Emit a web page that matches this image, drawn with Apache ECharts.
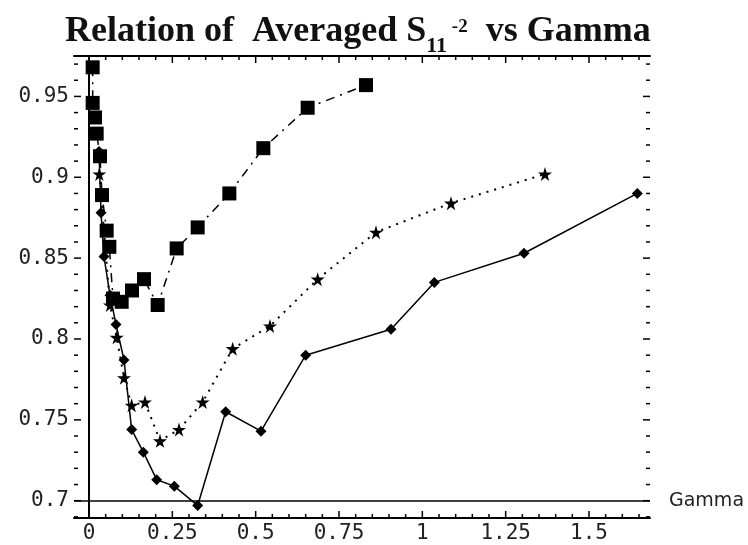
<!DOCTYPE html>
<html>
<head>
<meta charset="utf-8">
<script src="https://cdn.jsdelivr.net/npm/echarts@6/dist/echarts.min.js"></script>
<style>
  html, body { margin: 0; padding: 0; background: #fff; }
  #chart { width: 748px; height: 545px; }
</style>
</head>
<body>
<div id="chart"></div>
<script>
// Gamma values and averaged |S11|^-2 for the three runs
const gammaSquares = [0.011, 0.011, 0.018, 0.023, 0.033, 0.039, 0.053, 0.061, 0.072, 0.098, 0.129, 0.165, 0.206, 0.263, 0.326, 0.421, 0.523, 0.656, 0.831];
const valuesSquares = [0.968, 0.946, 0.937, 0.927, 0.913, 0.889, 0.867, 0.857, 0.825, 0.823, 0.830, 0.837, 0.821, 0.856, 0.869, 0.890, 0.918, 0.943, 0.957];

const gammaStars = [0.031, 0.063, 0.083, 0.105, 0.128, 0.168, 0.213, 0.270, 0.341, 0.431, 0.543, 0.686, 0.861, 1.086, 1.368];
const valuesStars = [0.902, 0.821, 0.801, 0.776, 0.759, 0.761, 0.737, 0.744, 0.761, 0.794, 0.808, 0.837, 0.866, 0.884, 0.902];

const gammaDiamonds = [0.030, 0.036, 0.045, 0.063, 0.081, 0.105, 0.128, 0.163, 0.203, 0.256, 0.326, 0.410, 0.516, 0.650, 0.906, 1.036, 1.305, 1.645];
const valuesDiamonds = [0.916, 0.878, 0.851, 0.827, 0.809, 0.787, 0.744, 0.730, 0.713, 0.709, 0.697, 0.755, 0.743, 0.790, 0.806, 0.835, 0.853, 0.890];

// Tick positions
const xMajorTicks = [0, 0.25, 0.5, 0.75, 1, 1.25, 1.5];
const yMajorTicks = [0.7, 0.75, 0.8, 0.85, 0.9, 0.95];

const X_MIN = -0.045, X_MAX = 1.683;
const Y_MIN = 0.6893, Y_MAX = 0.975;

function stepValues(lo, hi, step) {
  const out = [];
  const start = Math.ceil(lo / step - 1e-9);
  const end = Math.floor(hi / step + 1e-9);
  for (let i = start; i <= end; i++) out.push(+(i * step).toFixed(4));
  return out;
}
const xMinorTicks = stepValues(X_MIN, X_MAX, 0.05);
const yMinorTicks = stepValues(Y_MIN, Y_MAX, 0.01);

function pairs(xs, ys) { return xs.map((x, i) => [x, ys[i]]); }

// Frame tick marks: [axis (0 = x, 1 = y), value, isMajor]
function isMajor(v, majors) { return majors.some(m => Math.abs(m - v) < 1e-6); }
const tickItems = []
  .concat(xMinorTicks.map(v => [0, v, isMajor(v, xMajorTicks) ? 1 : 0]))
  .concat(yMinorTicks.map(v => [1, v, isMajor(v, yMajorTicks) ? 1 : 0]));

function renderTick(params, api) {
  const axis = api.value(0), v = api.value(1), major = api.value(2);
  const len = major ? 7 : 4;
  const style = { stroke: '#000', lineWidth: 1.5 };
  const children = [];
  if (axis === 0) {
    const b = api.coord([v, Y_MIN]);
    const t = api.coord([v, Y_MAX]);
    children.push({ type: 'line', shape: { x1: b[0], y1: b[1], x2: b[0], y2: b[1] - len }, style: style });
    children.push({ type: 'line', shape: { x1: t[0], y1: t[1], x2: t[0], y2: t[1] + len }, style: style });
  } else {
    const l = api.coord([X_MIN, v]);
    const r = api.coord([X_MAX, v]);
    children.push({ type: 'line', shape: { x1: l[0], y1: l[1], x2: l[0] + len, y2: l[1] }, style: style });
    children.push({ type: 'line', shape: { x1: r[0], y1: r[1], x2: r[0] - len, y2: r[1] }, style: style });
  }
  return { type: 'group', children: children };
}

const tickFont = { fontFamily: 'DejaVu Sans Mono', fontSize: 21, color: '#222' };
const frameLine = { show: true, lineStyle: { color: '#000', width: 2 } };

const starPath = 'path://M50,0 L61,35 L98,35 L68,57 L79,91 L50,70 L21,91 L32,57 L2,35 L39,35 Z';

const chart = echarts.init(document.getElementById('chart'), null, { renderer: 'canvas' });
chart.setOption({
  backgroundColor: '#fff',
  animation: false,
  title: {
    left: 60, top: 2,
    text: '{m|Relation of  Averaged S}{sub|11}{sup| -2}{m|  vs Gamma}',
    textStyle: {
      rich: {
        m: { fontFamily: 'Liberation Serif', fontWeight: 'bold', fontSize: 36, color: '#111', lineHeight: 50, verticalAlign: 'middle' },
        sub: { fontFamily: 'Liberation Serif', fontWeight: 'bold', fontSize: 22, color: '#111', lineHeight: 50, verticalAlign: 'bottom', padding: [14, 0, 0, 0] },
        sup: { fontFamily: 'Liberation Serif', fontWeight: 'bold', fontSize: 19, color: '#111', lineHeight: 30, verticalAlign: 'middle', padding: [0, 0, 10, 0] }
      }
    }
  },
  grid: { left: 74, right: 98, top: 56, bottom: 27 },
  xAxis: [
    { type: 'value', position: 'bottom', min: X_MIN, max: X_MAX, axisLine: frameLine, axisTick: { show: false },
      axisLabel: Object.assign({ show: true, margin: 5, customValues: xMajorTicks, formatter: v => String(v) }, tickFont),
      splitLine: { show: false } },
    { type: 'value', position: 'top', min: X_MIN, max: X_MAX, axisLine: frameLine, axisTick: { show: false },
      axisLabel: { show: false }, splitLine: { show: false } }
  ],
  yAxis: [
    { type: 'value', position: 'left', min: Y_MIN, max: Y_MAX, axisLine: frameLine, axisTick: { show: false },
      axisLabel: Object.assign({ show: true, margin: 5, customValues: yMajorTicks, formatter: v => String(v) }, tickFont),
      splitLine: { show: false } },
    { type: 'value', position: 'right', min: Y_MIN, max: Y_MAX, axisLine: frameLine, axisTick: { show: false },
      axisLabel: { show: false }, splitLine: { show: false } }
  ],
  series: [
    {
      type: 'custom', name: 'ticks', data: tickItems, renderItem: renderTick,
      clip: false, silent: true, z: 5
    },
    {
      type: 'line', name: 'squares', data: pairs(gammaSquares, valuesSquares),
      symbol: 'rect', symbolSize: 14,
      itemStyle: { color: '#000' },
      lineStyle: { color: '#000', width: 1.5, type: [9, 6, 2, 6] },
      z: 3
    },
    {
      type: 'line', name: 'stars', data: pairs(gammaStars, valuesStars),
      symbol: starPath, symbolSize: 14,
      itemStyle: { color: '#000' },
      lineStyle: { color: '#000', width: 2, type: [2, 6] },
      z: 3
    },
    {
      type: 'line', name: 'diamonds', data: pairs(gammaDiamonds, valuesDiamonds),
      symbol: 'diamond', symbolSize: 11,
      itemStyle: { color: '#000' },
      lineStyle: { color: '#000', width: 1.5 },
      z: 3,
      markLine: {
        silent: true, symbol: 'none', animation: false,
        lineStyle: { color: '#000', width: 1.5, type: 'solid' },
        data: [
          { xAxis: 0, label: { show: false } },
          { yAxis: 0.7, label: { show: true, position: 'end', distance: 19, formatter: 'Gamma', fontFamily: 'DejaVu Sans', fontSize: 19, color: '#222' } }
        ]
      }
    }
  ]
});
</script>
</body>
</html>
